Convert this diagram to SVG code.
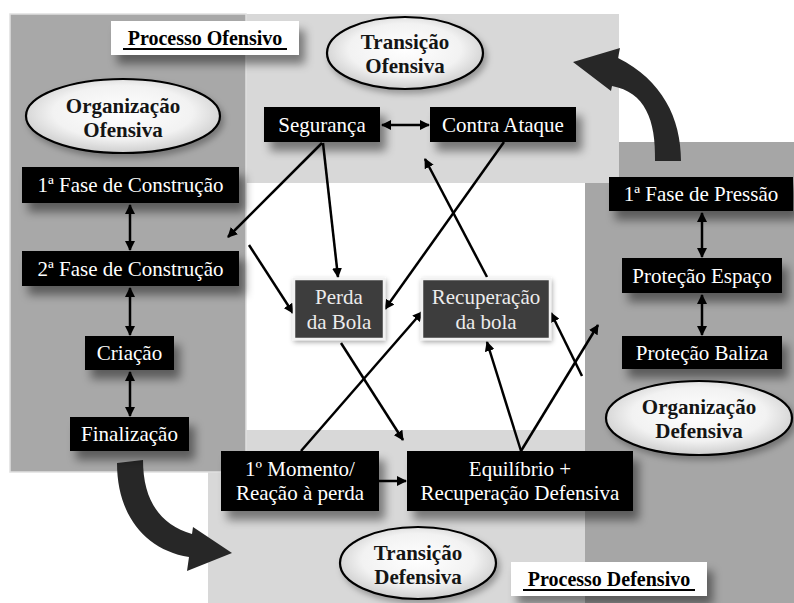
<svg xmlns="http://www.w3.org/2000/svg" width="794" height="603" viewBox="0 0 794 603">
<defs>
<style>
.bx{fill:#000;filter:url(#sh)}
.gb{fill:#3d3d3d;stroke:#f2f2f2;stroke-width:2.5;filter:url(#gl)}
.bt{font-family:"Liberation Serif","Times New Roman",serif;font-size:21px;fill:#fff;text-anchor:middle}
.gt{font-family:"Liberation Serif","Times New Roman",serif;font-size:21px;fill:#ececec;text-anchor:middle}
.et{font-family:"Liberation Serif","Times New Roman",serif;font-size:21px;font-weight:bold;fill:#151515;text-anchor:middle}
.lt{font-family:"Liberation Serif","Times New Roman",serif;font-size:20px;font-weight:bold;fill:#000;text-anchor:middle}
.ell{fill:url(#eg);stroke:#000;stroke-width:2.2;filter:url(#es)}
.cn{stroke:#000;stroke-width:2.5;fill:none}
.a1{marker-end:url(#ah)}
.a2{marker-start:url(#ah);marker-end:url(#ah)}
.big{fill:#272727}
</style>
<marker id="ah" viewBox="0 0 10 10" refX="9" refY="5" markerWidth="4" markerHeight="4" orient="auto-start-reverse" markerUnits="strokeWidth"><path d="M0,0 L10,5 L0,10 z" fill="#000"/></marker>
<radialGradient id="eg" cx="50%" cy="45%" r="60%"><stop offset="0" stop-color="#ffffff"/><stop offset="0.6" stop-color="#f2f2f2"/><stop offset="1" stop-color="#c4c4c4"/></radialGradient>
<filter id="sh" x="-20%" y="-30%" width="150%" height="200%"><feGaussianBlur in="SourceAlpha" stdDeviation="5"/><feOffset dx="6" dy="9" result="b"/><feFlood flood-color="#000" flood-opacity="0.45"/><feComposite in2="b" operator="in"/><feMerge><feMergeNode/><feMergeNode in="SourceGraphic"/></feMerge></filter>
<filter id="es" x="-20%" y="-30%" width="150%" height="180%"><feGaussianBlur in="SourceAlpha" stdDeviation="3"/><feOffset dx="3" dy="4" result="b"/><feFlood flood-color="#000" flood-opacity="0.3"/><feComposite in2="b" operator="in"/><feMerge><feMergeNode/><feMergeNode in="SourceGraphic"/></feMerge></filter>
<filter id="gl" x="-20%" y="-20%" width="140%" height="150%"><feGaussianBlur in="SourceAlpha" stdDeviation="2.5"/><feOffset dx="1" dy="2" result="b"/><feFlood flood-color="#000" flood-opacity="0.35"/><feComposite in2="b" operator="in"/><feMerge><feMergeNode/><feMergeNode in="SourceGraphic"/></feMerge></filter>
</defs>
<rect width="794" height="603" fill="#fff"/>
<g id="panels">
<rect x="585" y="142" width="209" height="461" fill="#a6a6a6"/>
<rect x="246" y="14" width="373" height="169" fill="#d8d8d8"/>
<rect x="208" y="430" width="377" height="173" fill="#d8d8d8"/>
<rect x="10" y="14" width="236" height="458" fill="#a8a8a8" stroke="#e0e0e0" stroke-width="1.5"/>
</g>
<g id="big-arrows">
<path class="big" d="M655,161 L681,161 C681,118 662,80 618,58 L620,48 L573,62 L611,91 L612,86 C645,92 656,120 655,161 Z"/>
<path class="big" d="M117,463 L143,460 C143,500 160,525 192,534 L193,527 L232,553 L187,571 L189,557 C145,550 117,515 117,463 Z"/>
</g>
<g id="connectors">
<path class="cn a1" d="M322,143 L228,237"/>
<path class="cn a1" d="M323,143 L338,277"/>
<path class="cn a1" d="M249,245 L293,313"/>
<path class="cn a1" d="M504,142 L385,309"/>
<path class="cn a1" d="M487,277 L425,159"/>
<path class="cn a1" d="M341,343 L403,440"/>
<path class="cn a1" d="M301,451 L422,312"/>
<path class="cn a1" d="M521,451 L487,342"/>
<path class="cn a1" d="M521,451 L598,325"/>
<path class="cn a1" d="M582,376 L551,313"/>
<path class="cn a1" d="M379,481 L406,481"/>
<path class="cn a2" d="M382,125 L429,125"/>
<path class="cn a2" d="M130,205 L130,250"/>
<path class="cn a2" d="M130,288 L130,335"/>
<path class="cn a2" d="M130,372 L130,416"/>
<path class="cn a2" d="M702,213 L702,257"/>
<path class="cn a2" d="M702,295 L702,335"/>
</g>
<g id="processo-ofensivo">
<rect x="111" y="21" width="188" height="34" fill="#fff" filter="url(#sh)"/>
<text class="lt" x="205" y="45">Processo Ofensivo</text>
<line x1="123" y1="49" x2="287" y2="49" stroke="#000" stroke-width="1.8"/>
</g>
<g id="transicao-ofensiva">
<ellipse class="ell" cx="405" cy="53" rx="78" ry="36"/>
<text class="et" x="405" y="49">Transição</text>
<text class="et" x="405" y="73">Ofensiva</text>
</g>
<g id="organizacao-ofensiva">
<ellipse class="ell" cx="123" cy="116" rx="97" ry="37"/>
<text class="et" x="123" y="113">Organização</text>
<text class="et" x="123" y="137">Ofensiva</text>
</g>
<g id="fase1-construcao"><rect class="bx" x="22" y="167" width="217" height="36"/><text class="bt" x="130.5" y="192">1ª Fase de Construção</text></g>
<g id="fase2-construcao"><rect class="bx" x="22" y="251" width="217" height="35"/><text class="bt" x="130.5" y="276">2ª Fase de Construção</text></g>
<g id="criacao"><rect class="bx" x="85" y="336" width="89" height="34"/><text class="bt" x="129.5" y="360">Criação</text></g>
<g id="finalizacao"><rect class="bx" x="70" y="417" width="119" height="34"/><text class="bt" x="129.5" y="441">Finalização</text></g>
<g id="seguranca"><rect class="bx" x="264" y="107" width="116" height="35"/><text class="bt" x="322" y="132">Segurança</text></g>
<g id="contra-ataque"><rect class="bx" x="430" y="107" width="146" height="35"/><text class="bt" x="503" y="132">Contra Ataque</text></g>
<g id="perda-bola"><rect class="gb" x="294" y="279" width="90" height="60"/><text class="gt" x="339" y="304">Perda</text><text class="gt" x="339" y="329">da Bola</text></g>
<g id="recuperacao-bola"><rect class="gb" x="422" y="279" width="128" height="60"/><text class="gt" x="486" y="304">Recuperação</text><text class="gt" x="486" y="329">da bola</text></g>
<g id="momento1"><rect class="bx" x="221" y="451" width="158" height="60"/><text class="bt" x="300" y="476">1º Momento/</text><text class="bt" x="300" y="500">Reação à perda</text></g>
<g id="equilibrio"><rect class="bx" x="407" y="451" width="226" height="60"/><text class="bt" x="520" y="476">Equilíbrio +</text><text class="bt" x="520" y="500">Recuperação Defensiva</text></g>
<g id="fase1-pressao"><rect class="bx" x="609" y="177" width="184" height="34"/><text class="bt" x="701" y="201">1ª Fase de Pressão</text></g>
<g id="protecao-espaco"><rect class="bx" x="622" y="258" width="160" height="35"/><text class="bt" x="702" y="283">Proteção Espaço</text></g>
<g id="protecao-baliza"><rect class="bx" x="622" y="336" width="160" height="33"/><text class="bt" x="702" y="360">Proteção Baliza</text></g>
<g id="organizacao-defensiva">
<ellipse class="ell" cx="699" cy="418" rx="93" ry="37"/>
<text class="et" x="699" y="414">Organização</text>
<text class="et" x="699" y="438">Defensiva</text>
</g>
<g id="transicao-defensiva">
<ellipse class="ell" cx="418" cy="563" rx="78" ry="36"/>
<text class="et" x="418" y="560">Transição</text>
<text class="et" x="418" y="584">Defensiva</text>
</g>
<g id="processo-defensivo">
<rect x="511" y="562" width="196" height="34" fill="#fff" filter="url(#sh)"/>
<text class="lt" x="609" y="586">Processo Defensivo</text>
<line x1="523" y1="590" x2="695" y2="590" stroke="#000" stroke-width="1.8"/>
</g>
</svg>
